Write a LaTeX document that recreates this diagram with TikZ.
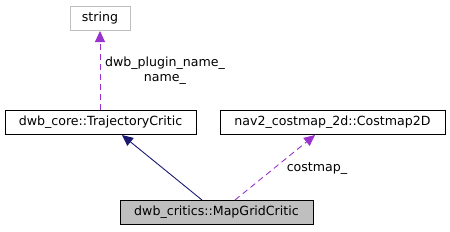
\documentclass[tikz,border=0pt]{standalone}
\usepackage{fontspec}
\setmainfont{DejaVu Sans}
\usetikzlibrary{arrows.meta}
\definecolor{edgenavy}{HTML}{191970}
\definecolor{edgepurple}{HTML}{9A32CD}
\definecolor{boxgray}{HTML}{BFBFBF}
\begin{document}
\begin{tikzpicture}[x=1pt,y=-1pt,
  cls/.style={draw=black,fill=white,line width=1pt,minimum height=24pt,inner xsep=5pt,font=\fontsize{12.6}{14}\selectfont,text=black},
  inh/.style={draw=edgenavy,line width=0.9pt,-{Triangle[length=11pt,width=10pt,fill=edgenavy]}},
  use/.style={draw=edgepurple,line width=0.9pt,dash pattern=on 6pt off 4pt,-{Triangle[length=11pt,width=10pt,fill=edgepurple]}},
  lbl/.style={font=\fontsize{12.6}{15}\selectfont,text=black,align=center}]
\useasboundingbox (0,0) rectangle (450,231);
\node[cls,draw=boxgray,minimum width=60pt] (str) at (100,18) {string};
\node[cls,minimum width=191pt] (tc) at (100.5,122.5) {dwb\_core::TrajectoryCritic};
\node[cls,minimum width=225pt] (cm) at (332.5,122.5) {nav2\_costmap\_2d::Costmap2D};
\node[cls,fill=boxgray,minimum width=193pt] (mg) at (216.5,212) {dwb\_critics::MapGridCritic};
\coordinate (mgA) at (202,200);
\coordinate (mgB) at (235,200);
\coordinate (tcA) at (122,135);
\coordinate (cmA) at (315,135);
\coordinate (tcTop) at (100,110);
\coordinate (strBot) at (100,31);
\draw[inh] (mgA) -- (tcA);
\draw[use] (mgB) -- (cmA);
\draw[use] (tcTop) -- (strBot);
\node[lbl] (l1) at (165,71) {dwb\_plugin\_name\_\\name\_};
\node[lbl] (l2) at (317,169) {costmap\_};
\end{tikzpicture}
\end{document}
